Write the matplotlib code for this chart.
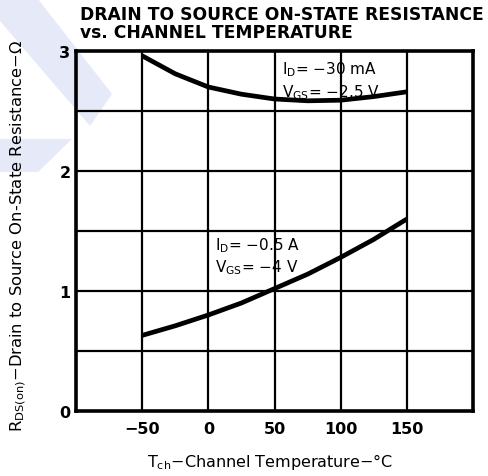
import matplotlib
matplotlib.use("Agg")
import matplotlib.pyplot as plt
from matplotlib.patches import Polygon

# ---- data ----
temps = [-50, -25, 0, 25, 50, 75, 100, 125, 150]
r_30mA = [2.96, 2.81, 2.70, 2.64, 2.60, 2.585, 2.59, 2.62, 2.66]
r_05A = [0.63, 0.71, 0.80, 0.90, 1.02, 1.14, 1.28, 1.43, 1.60]
x_ticks = [-50, 0, 50, 100, 150]
x_tick_labels = ['\u221250', '0', '50', '100', '150']
y_ticks = [0, 1, 2, 3]
y_grid = [0.5, 1.0, 1.5, 2.0, 2.5]
title_lines = ["DRAIN TO SOURCE ON-STATE RESISTANCE", "vs. CHANNEL TEMPERATURE"]
M = '\u2212'

plt.rcParams['font.family'] = ['DejaVu Sans']
plt.rcParams['mathtext.fontset'] = 'dejavusans'

W, H = 488, 477
fig = plt.figure(figsize=(W / 100, H / 100), dpi=100)

# faint watermark bands (background decoration)
wm = '#e6eaf8'
def px(pts):
    return [(x / W, 1 - y / H) for x, y in pts]
for pts in ([(0, 0), (38, 0), (112, 95), (90, 127), (0, 22)],
            [(0, 140), (72, 140), (38, 173), (0, 173)]):
    fig.patches.append(Polygon(px(pts), closed=True, transform=fig.transFigure,
                               facecolor=wm, edgecolor='none', zorder=-5))

ax = fig.add_axes([76 / W, 1 - 412 / H, (473 - 76) / W, (412 - 52) / H], zorder=2)
ax.set_facecolor('none')
ax.set_xlim(-100, 200)
ax.set_ylim(0, 3)

for xv in x_ticks:
    ax.axvline(xv, color='black', lw=1.6, zorder=1)
for yv in y_grid:
    ax.axhline(yv, color='black', lw=1.6, zorder=1)

ax.plot(temps, r_30mA, color='black', lw=3.4, solid_capstyle='butt', zorder=3)
ax.plot(temps, r_05A, color='black', lw=3.4, solid_capstyle='butt', zorder=3)

for s in ax.spines.values():
    s.set_linewidth(2.6)

ax.set_xticks(x_ticks)
ax.set_xticklabels(x_tick_labels)
ax.set_yticks(y_ticks)
ax.tick_params(length=0, labelsize=11.5)
ax.tick_params(axis='x', pad=7)
ax.tick_params(axis='y', pad=4)
for lab in ax.get_xticklabels() + ax.get_yticklabels():
    lab.set_fontweight('bold')

# annotations
ann_kw = dict(fontsize=11, color='black', ha='left', va='center', zorder=4)
ax.text(56, 2.85, r'$\mathregular{I_D}$' + '= ' + M + '30 mA', **ann_kw)
ax.text(56, 2.66, r'$\mathregular{V_{GS}}$' + '= ' + M + '2.5 V', **ann_kw)
ax.text(5, 1.39, r'$\mathregular{I_D}$' + '= ' + M + '0.5 A', **ann_kw)
ax.text(5, 1.20, r'$\mathregular{V_{GS}}$' + '= ' + M + '4 V', **ann_kw)

# title
fig.text(80 / W, 1 - 15 / H, title_lines[0], fontsize=12.3, fontweight='bold', ha='left', va='center')
fig.text(80 / W, 1 - 33 / H, title_lines[1], fontsize=12.3, fontweight='bold', ha='left', va='center')

# axis labels
fig.text(270 / W, 1 - 462 / H, r'$\mathregular{T_{ch}}$' + M + 'Channel Temperature' + M + '\u00b0C',
         fontsize=11.5, ha='center', va='center')
fig.text(18 / W, 1 - 236 / H, r'$\mathregular{R_{DS(on)}}$' + M + 'Drain to Source On-State Resistance' + M + '\u03a9',
         fontsize=11.8, ha='center', va='center', rotation=90)

fig.savefig('out.png', dpi=100)
